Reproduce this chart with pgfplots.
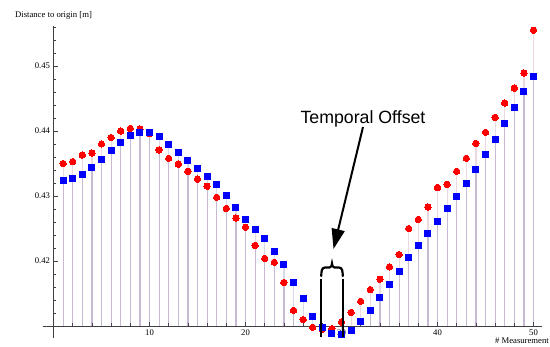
\documentclass[border=0pt]{standalone}
\usepackage{fontspec}
\setmainfont{Liberation Serif}
\newfontfamily\arialfont{Liberation Sans}
\usepackage{pgfplots}
\pgfplotsset{compat=1.18}
\usepackage{pgfplotstable}
\usetikzlibrary{arrows.meta}
\definecolor{stemA}{rgb}{0.24,0.24,0.6}
\definecolor{stemB}{rgb}{0.6,0.24,0.44}
\pgfplotstableread{
x red blue
1 0.4350 0.4324
2 0.4353 0.4327
3 0.4363 0.4333
4 0.4366 0.4344
5 0.4380 0.4356
6 0.4390 0.4370
7 0.4400 0.4383
8 0.4404 0.4393
9 0.4403 0.4398
10 0.4396 0.4398
11 0.4371 0.4392
12 0.4358 0.4380
13 0.4349 0.4367
14 0.4338 0.4355
15 0.4326 0.4343
16 0.4315 0.4330
17 0.4298 0.4317
18 0.4281 0.4301
19 0.4266 0.4283
20 0.4252 0.4264
21 0.4224 0.4249
22 0.4204 0.4235
23 0.4198 0.4215
24 0.4167 0.4195
25 0.4124 0.4167
26 0.4110 0.4142
27 0.4098 0.4115
28 0.4095 0.4098
29 0.4096 0.4089
30 0.4106 0.4087
31 0.4121 0.4093
32 0.4138 0.4107
33 0.4156 0.4124
34 0.4172 0.4144
35 0.4191 0.4164
36 0.4210 0.4184
37 0.4250 0.4206
38 0.4264 0.4224
39 0.4283 0.4243
40 0.4313 0.4261
41 0.4318 0.4281
42 0.4338 0.4300
43 0.4358 0.4320
44 0.4381 0.4341
45 0.4398 0.4364
46 0.4421 0.4387
47 0.4443 0.4412
48 0.4466 0.4436
49 0.4489 0.4460
50 0.4555 0.4484
}\datatable
\begin{document}
\begin{tikzpicture}
\begin{axis}[
  scale only axis, width=499.2bp, height=312bp,
  xmin=-1.1, xmax=50.9, ymin=0.4082, ymax=0.4562,
  y coord trafo/.code={\pgfmathparse{#1-0.41}},
  y coord inv trafo/.code={\pgfmathparse{#1+0.41}},
  scaled y ticks=false, scaled x ticks=false,
  axis lines=middle,
  axis line style={-, black!75, line width=0.8bp},
  xtick={10,20,30,40,50},
  minor xtick={2,4,...,50},
  ytick={0.42,0.43,0.44,0.45},
  yticklabels={0.42,0.43,0.44,0.45},
  minor ytick={0.408,0.412,0.414,0.416,0.418,0.422,0.424,0.426,0.428,0.432,0.434,0.436,0.438,0.442,0.444,0.446,0.448,0.452,0.454,0.456},
  tick align=inside,
  major tick length=4.5bp, minor tick length=2.7bp,
  tick style={black!75, line width=0.6bp},
  ticklabel style={font=\fontsize{8.7}{10}\selectfont},
  /pgf/number format/assume math mode=true,
  clip=false,
]
\addplot[ycomb, draw=stemB, opacity=0.2, line width=1.2bp, mark=none] table[x=x,y=red] {\datatable};
\addplot[ycomb, draw=stemA, opacity=0.2, line width=1.2bp, mark=none] table[x=x,y=blue] {\datatable};
\addplot[color=red, only marks, mark=*, mark size=3.2bp, mark options={draw=red, fill=red, line width=0pt}] table[x=x,y=red] {\datatable};
\addplot[color=blue, only marks, mark=square*, mark size=3.0bp, mark options={draw=blue, fill=blue, line width=0pt}] table[x=x,y=blue] {\datatable};
\coordinate (O) at (rel axis cs:0,0);
\end{axis}
\begin{scope}[shift={(O)}, x=1bp, y=-1bp, shift={(-42.94,-337.7)}]
  \node[anchor=base, inner sep=0pt, font=\fontsize{8.7}{10}\selectfont] at (53.5,17.3) {Distance to origin [m]};
  \node[anchor=base east, inner sep=0pt, font=\fontsize{8.7}{10}\selectfont] at (549,343.5) {\# Measurement};
  \node[anchor=base, inner sep=0pt, font=\arialfont\fontsize{17.8}{20}\selectfont] at (363,123) {Temporal Offset};
  \draw[line width=2bp, -{Triangle[length=20bp,width=13bp]}] (363,127) -- (333.5,249);
  \draw[line width=2.2bp] (321.3,337) -- (321.3,279) (342.7,337) -- (342.7,279);
  \draw[line width=2.2bp, line cap=round] (321.3,276) to[out=90,in=180] (325,267.5) -- (329.5,267.5) to[out=0,in=-90] (332,263.5) to[out=-90,in=180] (334.5,267.5) -- (339,267.5) to[out=0,in=90] (342.7,276);
  \pgfresetboundingbox
  \path[use as bounding box] (0,0) rectangle (550,346);
\end{scope}
\end{tikzpicture}
\end{document}
